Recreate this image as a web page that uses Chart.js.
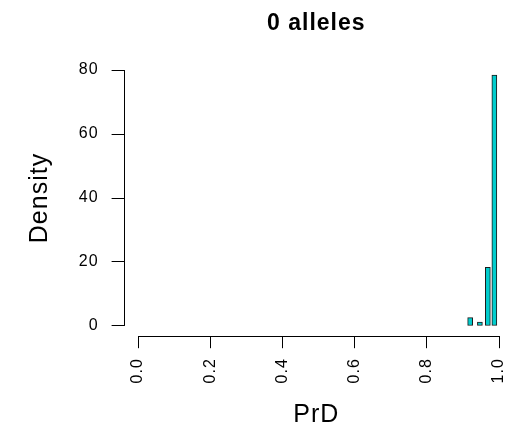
<!DOCTYPE html>
<html>
<head>
<meta charset="utf-8">
<script src="https://cdn.jsdelivr.net/npm/chart.js@4/dist/chart.umd.min.js"></script>
<style>
  html, body { margin: 0; padding: 0; background: #fff; }
  canvas { display: block; }
</style>
</head>
<body>
<canvas id="hist" width="509" height="428"></canvas>
<script>
// histogram bins (midpoints) and their densities
const binMid = [0.920, 0.947, 0.969, 0.987];
const density = [2.6, 1.2, 18.3, 78.4];

const xTicks = [0, 0.2, 0.4, 0.6, 0.8, 1.0];
const yTicks = [0, 20, 40, 60, 80];

const FONT = "'Liberation Sans', Arial, Helvetica, sans-serif";

// old-style png text is a bit loosely spaced
const spacing = {
  id: "spacing",
  beforeLayout(chart) { chart.ctx.letterSpacing = "1px"; },
  beforeDraw(chart) { chart.ctx.letterSpacing = "1px"; }
};

// R-style axes: the axis line only runs from first to last tick
const rAxes = {
  id: "rAxes",
  afterDraw(chart) {
    const ctx = chart.ctx;
    const x = chart.scales.x, y = chart.scales.y;
    const area = chart.chartArea;
    ctx.save();
    ctx.strokeStyle = "#000";
    ctx.lineWidth = 1;
    ctx.beginPath();
    const yb = Math.round(area.bottom) + 0.5;
    ctx.moveTo(x.getPixelForValue(xTicks[0]), yb);
    ctx.lineTo(x.getPixelForValue(xTicks[xTicks.length - 1]), yb);
    const xl = Math.round(area.left) + 0.5;
    ctx.moveTo(xl, y.getPixelForValue(yTicks[0]));
    ctx.lineTo(xl, y.getPixelForValue(yTicks[yTicks.length - 1]));
    ctx.stroke();
    ctx.restore();
  }
};

const noPad = s => { s.paddingLeft = 0; s.paddingRight = 0; s.paddingTop = 0; s.paddingBottom = 0; };

const ctx = document.getElementById("hist").getContext("2d");

new Chart(ctx, {
  type: "bar",
  data: {
    datasets: [{
      xAxisID: "x",
      yAxisID: "y",
      data: binMid.map((m, i) => ({ x: m, y: density[i] })),
      backgroundColor: "#00CDCD",
      borderColor: "#1a1a1a",
      borderWidth: 1,
      barThickness: 5,
      borderSkipped: false
    }]
  },
  options: {
    responsive: false,
    animation: false,
    layout: { padding: 0 },
    plugins: {
      legend: { display: false },
      tooltip: { enabled: false },
      title: { display: false }
    },
    scales: {
      // top axis only carries the main title, centred over the plot region
      top: {
        type: "linear",
        position: "top",
        min: -0.04,
        max: 1.0276,
        afterFit: s => { s.height = 59.8; noPad(s); },
        ticks: { display: false },
        grid: { display: false },
        border: { display: false },
        title: {
          display: true,
          text: "0 alleles",
          color: "#000",
          font: { family: FONT, size: 23, weight: "bold", lineHeight: 1 },
          padding: { top: 12 }
        }
      },
      x: {
        type: "linear",
        offset: false,
        min: -0.04,
        max: 1.0276,
        afterBuildTicks: s => { s.ticks = xTicks.map(v => ({ value: v })); },
        afterFit: s => { s.height = 91.8; noPad(s); },
        ticks: {
          autoSkip: false,
          minRotation: 90,
          maxRotation: 90,
          padding: 10,
          color: "#000",
          font: { family: FONT, size: 16 },
          callback: v => v.toFixed(1)
        },
        grid: {
          offset: false,
          drawOnChartArea: false,
          drawTicks: true,
          tickLength: 12,
          color: "#000"
        },
        border: { display: false },
        title: {
          display: true,
          text: "PrD",
          color: "#000",
          font: { family: FONT, size: 25, lineHeight: 1 },
          padding: { bottom: 0 }
        }
      },
      y: {
        min: -3.2,
        max: 83.2,
        afterBuildTicks: s => { s.ticks = yTicks.map(v => ({ value: v })); },
        afterFit: s => { s.width = 123.6; noPad(s); },
        ticks: {
          padding: 13,
          color: "#000",
          font: { family: FONT, size: 16 }
        },
        grid: {
          drawOnChartArea: false,
          drawTicks: true,
          tickLength: 12,
          color: "#000"
        },
        border: { display: false },
        title: {
          display: true,
          text: "Density",
          color: "#000",
          font: { family: FONT, size: 25, lineHeight: 1 },
          padding: { top: 28 }
        }
      }
    }
  },
  plugins: [spacing, rAxes]
});
</script>
</body>
</html>
